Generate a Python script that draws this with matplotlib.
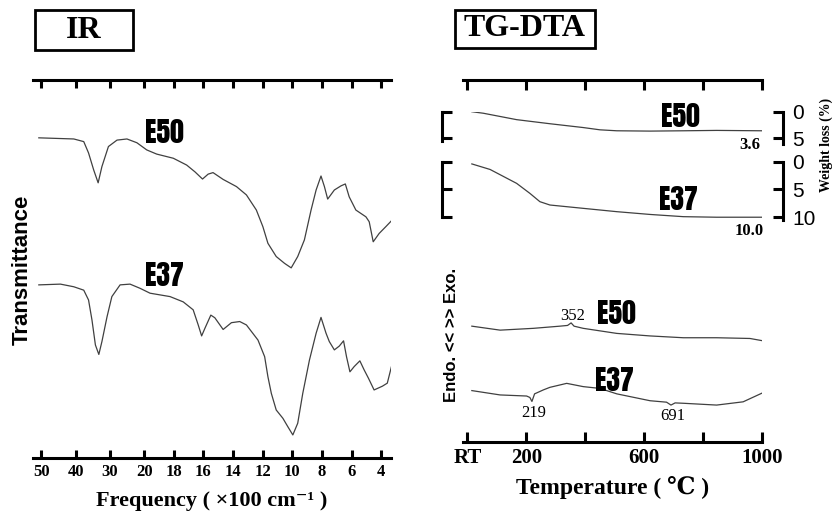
import numpy as np
import matplotlib
matplotlib.use("Agg")
import matplotlib.pyplot as plt
from matplotlib.patches import Rectangle

# ---------------- IR spectra (frequency in x100 cm^-1, transmittance a.u.) ----------------
ir_e50_freq = [50.7, 40.5, 37.6, 36.2, 34.7, 33.4, 32.3, 30.4, 27.9, 25.0, 22.1, 19.82,
               19.15, 18.03, 17.13, 16.57, 16.06, 15.68, 15.35, 14.67, 13.77, 13.10, 12.43,
               11.99, 11.65, 11.09, 10.53, 10.08, 9.64, 9.19, 8.74, 8.40, 8.07, 7.84, 7.62,
               7.17, 6.72, 6.43, 6.17, 5.72, 5.04, 4.82, 4.55, 4.15, 3.70, 3.26]
ir_e50_trans = [84.7, 84.4, 83.7, 80.7, 76.2, 72.8, 77.1, 82.4, 84.1, 84.4, 83.4, 81.5,
                80.4, 79.3, 77.5, 75.7, 73.8, 75.1, 75.5, 73.7, 71.8, 69.6, 65.6,
                61.2, 56.8, 53.3, 51.5, 50.3, 53.3, 57.7, 65.6, 70.9, 74.6, 71.8, 68.5,
                70.9, 72.0, 72.5, 69.1, 65.6, 63.8, 62.5, 57.2, 59.4, 61.2, 63.0]

ir_e37_freq = [50.7, 44.4, 40.5, 37.6, 36.2, 35.2, 34.2, 33.2, 32.3, 30.8, 29.4, 27.0,
               24.1, 21.2, 19.6, 18.25, 17.36, 16.69, 16.35, 16.12, 15.90, 15.5, 15.23,
               14.67, 14.11, 13.55, 13.10, 12.32, 11.87, 11.65, 11.42, 11.09, 10.64, 10.31,
               9.97, 9.64, 9.30, 8.85, 8.40, 8.07, 7.73, 7.51, 7.17, 6.84, 6.55, 6.35,
               6.12, 5.83, 5.45, 5.16, 4.87, 4.49, 3.93, 3.60, 3.26]
ir_e37_trans = [45.8, 46.0, 45.3, 44.4, 41.8, 36.5, 29.9, 27.4, 30.8, 37.4, 42.7, 45.8,
                46.0, 44.9, 43.6, 42.7, 41.3, 39.2, 35.2, 32.3, 34.3, 37.8, 37.1,
                34.0, 35.8, 36.1, 35.2, 31.2, 26.8, 21.5, 17.1, 12.7, 10.5, 8.3,
                6.1, 9.2, 17.1, 25.9, 33.0, 37.2, 33.0, 30.8, 28.6, 29.6, 31.0, 26.8,
                22.8, 24.2, 25.7, 23.3, 21.1, 18.0, 19.0, 19.8, 25.1]

ir_ticks = [50, 40, 30, 20, 18, 16, 14, 12, 10, 8, 6, 4]

# ---------------- TG (weight loss %) ----------------
tg_e50_temp = [15, 54, 167, 280, 393, 450, 507, 620, 733, 846, 1000]
tg_e50_loss = [0.0, 0.29, 1.5, 2.27, 2.99, 3.42, 3.6, 3.66, 3.6, 3.53, 3.6]
tg_e37_temp = [15, 77, 167, 212, 246, 280, 393, 507, 620, 733, 846, 1000]
tg_e37_loss = [0.4, 1.4, 3.9, 5.7, 7.2, 7.8, 8.4, 9.0, 9.5, 9.9, 10.0, 10.0]

# ---------------- DTA (a.u.) ----------------
dta_e50_temp = [15, 111, 224, 314, 340, 352, 362, 393, 507, 620, 733, 846, 959, 1000]
dta_e50_signal = [32.0, 30.9, 31.4, 32.0, 32.2, 32.9, 32.0, 31.4, 30.0, 29.3, 28.8, 28.8, 28.6, 28.0]
dta_e37_temp = [15, 111, 201, 212, 219, 228, 258, 280, 337, 393, 450, 507, 620, 676,
                691, 705, 733, 846, 936, 1000]
dta_e37_signal = [14.2, 13.0, 12.7, 12.3, 11.2, 13.3, 14.4, 15.1, 16.2, 15.3, 14.8, 13.3,
                  11.4, 11.0, 10.2, 10.8, 10.7, 10.2, 11.1, 13.5]
dta_e50_peaks = [352]
dta_e37_dips = [219, 691]

temp_ticks = [0, 200, 400, 600, 800, 1000]
temp_tick_labels = ["RT", "200", "", "600", "", "1000"]

# ---------------- styling ----------------
W, H = 835, 519
SERIF = ["Liberation Serif", "DejaVu Serif"]
SANS = ["Liberation Sans", "DejaVu Sans"]
LINE = "#404040"
SPINE_W = 2.2

# heavy condensed face for the sample names
SAMPLE = dict(family=["Anton", "Francois One", "DejaVu Sans"], fontweight="bold",
              fontstretch="condensed", fontsize=20, ha="center", va="center")

fig = plt.figure(figsize=(W / 100, H / 100), dpi=100)
fig.patch.set_facecolor("white")


def px_axes(x0, y0, x1, y1):
    """Axes placed by pixel box (top-left origin)."""
    return fig.add_axes([x0 / W, 1 - y1 / H, (x1 - x0) / W, (y1 - y0) / H])


def title_box(x0, y0, x1, y1, text, size):
    fig.patches.append(Rectangle((x0 / W, 1 - y1 / H), (x1 - x0) / W, (y1 - y0) / H,
                                 transform=fig.transFigure, fill=False,
                                 edgecolor="black", linewidth=2.0))
    fig.text((x0 + x1) / 2 / W, 1 - (y0 + y1) / 2 / H, text, ha="center", va="center",
             family=SERIF, fontweight="bold", fontsize=size)


# ================= IR panel =================
K = 4.325  # expansion of the scale below 2000 cm^-1


def ir_fwd(f):
    f = np.asarray(f, dtype=float)
    return np.where(f >= 20, f, 20 - (20 - f) * K)


def ir_inv(g):
    g = np.asarray(g, dtype=float)
    return np.where(g >= 20, g, 20 - (20 - g) / K)


ax_ir = px_axes(33, 80, 391, 458)
ax_ir.set_xscale("function", functions=(ir_fwd, ir_inv))
ax_ir.set_xlim(52.4, 3.35)
ax_ir.set_ylim(0, 100)
ax_ir.plot(ir_e50_freq, ir_e50_trans, color=LINE, lw=0.9)
ax_ir.plot(ir_e37_freq, ir_e37_trans, color=LINE, lw=0.9)
for s in ("left", "right"):
    ax_ir.spines[s].set_visible(False)
for s in ("top", "bottom"):
    ax_ir.spines[s].set_linewidth(SPINE_W)
ax_ir.set_yticks([])
ax_ir.set_xticks(ir_ticks)
ax_ir.set_xticklabels([str(t) for t in ir_ticks])
ax_ir.xaxis.set_minor_locator(matplotlib.ticker.NullLocator())
ax_ir.tick_params(axis="x", which="major", direction="in", length=6, width=2.2,
                  top=True, bottom=True, labeltop=False, labelsize=12, pad=4)
for lab in ax_ir.get_xticklabels():
    lab.set_family(SERIF)
    lab.set_fontweight("bold")
ax_ir.set_xlabel("Frequency ( ×100 cm⁻¹ )", family=SERIF, fontweight="bold",
                 fontsize=16, labelpad=8)
ax_ir.text(18.6, 86.2, "E50", **SAMPLE)
ax_ir.text(18.66, 48.4, "E37", **SAMPLE)
fig.text(22 / W, 1 - 270 / H, "Transmittance", rotation=90, ha="center", va="center",
         family=SANS, fontweight="bold", fontsize=16)

title_box(35, 10, 133, 50, "IR", 23)

# ================= TG-DTA panel =================
TLIM = (-15, 1000)
ax_dta = px_axes(463, 80, 762, 442)
ax_dta.set_xlim(*TLIM)
ax_dta.set_ylim(0, 100)
ax_dta.patch.set_alpha(0)
ax_dta.plot(dta_e50_temp, dta_e50_signal, color=LINE, lw=0.9)
ax_dta.plot(dta_e37_temp, dta_e37_signal, color=LINE, lw=0.9)
for s in ("left", "right"):
    ax_dta.spines[s].set_visible(False)
for s in ("top", "bottom"):
    ax_dta.spines[s].set_linewidth(SPINE_W)
ax_dta.set_yticks([])
ax_dta.set_xticks(temp_ticks)
ax_dta.set_xticklabels(temp_tick_labels)
ax_dta.tick_params(axis="x", direction="in", length=7.5, width=2.2, top=True,
                   bottom=True, labeltop=False, labelsize=15, pad=4)
for lab in ax_dta.get_xticklabels():
    lab.set_family(SERIF)
    lab.set_fontweight("bold")
ax_dta.set_xlabel("Temperature ( ℃ )", family=SERIF, fontweight="bold",
                  fontsize=17, labelpad=6)

for t in dta_e50_peaks:
    v = np.interp(t, dta_e50_temp, dta_e50_signal)
    ax_dta.annotate(f"{t}", (t, v), xytext=(1, 5), textcoords="offset points",
                    ha="center", va="center", family=SERIF, fontsize=12)
for t in dta_e37_dips:
    v = np.interp(t, dta_e37_temp, dta_e37_signal)
    ax_dta.annotate(f"{t}", (t, v), xytext=(1.5, -8), textcoords="offset points",
                    ha="center", va="center", family=SERIF, fontsize=12)
ax_dta.text(504, 35.4, "E50", **SAMPLE)
ax_dta.text(498, 17.1, "E37", **SAMPLE)
fig.text(452 / W, 1 - 335 / H, "Endo. << >> Exo.", rotation=90, ha="center",
         va="center", family=SANS, fontweight="bold", fontsize=12)


def weight_axes(y_top, y_bot, ymax, left_bound, right_bound, ticks, temp, loss):
    ax = px_axes(463, y_top, 762, y_bot)
    ax.set_xlim(*TLIM)
    ax.set_ylim(ymax, 0)
    ax.patch.set_alpha(0)
    ax.plot(temp, loss, color=LINE, lw=0.9)
    for s in ("top", "bottom"):
        ax.spines[s].set_visible(False)
    ax.spines["left"].set_position(("outward", 15))
    ax.spines["right"].set_position(("outward", 15))
    ax.spines["left"].set_bounds(0, left_bound)
    ax.spines["right"].set_bounds(0, right_bound)
    for s in ("left", "right"):
        ax.spines[s].set_linewidth(SPINE_W)
    ax.set_xticks([])
    ax.set_yticks(ticks)
    ax.set_yticklabels([str(t) for t in ticks])
    ax.tick_params(axis="y", direction="in", length=7, width=2.2, left=True, right=True,
                   labelleft=False, labelright=True, labelsize=15, pad=7)
    for lab in ax.get_yticklabels():
        lab.set_family(SANS)
    ax.annotate(f"{loss[-1]:.1f}", (temp[-1], loss[-1]), xytext=(-9, -10),
                textcoords="offset points", ha="center", va="center",
                family=SERIF, fontweight="bold", fontsize=12)
    return ax


ax_tg50 = weight_axes(111.7, 143.5, 6.0, 5.6, 6.0, [0, 5], tg_e50_temp, tg_e50_loss)
ax_tg50.text(722, 0.9, "E50", **SAMPLE)
ax_tg37 = weight_axes(161.7, 220.0, 10.5, 10.0, 10.5, [0, 5, 10], tg_e37_temp, tg_e37_loss)
ax_tg37.text(715, 6.8, "E37", **SAMPLE)

fig.text(826 / W, 1 - 145 / H, "Weight loss (%)", rotation=90, ha="center", va="center",
         family=SERIF, fontweight="bold", fontsize=10)

title_box(455, 10, 595, 48, "TG-DTA", 23)

fig.savefig("out.png", dpi=100, facecolor="white")
